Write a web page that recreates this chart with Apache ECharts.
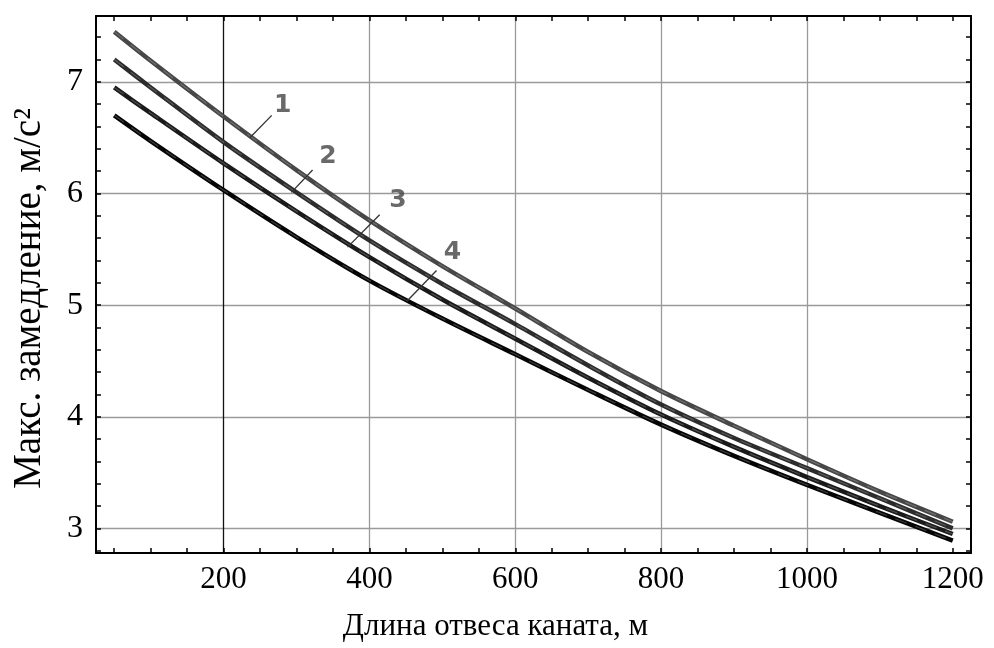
<!DOCTYPE html>
<html><head><meta charset="utf-8">
<script src="https://cdn.jsdelivr.net/npm/echarts@6/dist/echarts.min.js"></script>
<style>html,body{margin:0;padding:0;background:#fff}#c{width:994px;height:648px}</style>
</head><body><div id="c"></div>
<script>
// Rope length, m
const lengths = [50, 100, 200, 300, 400, 500, 600, 700, 800, 900, 1000, 1100, 1200];
// Max deceleration, m/s^2
const curve1 = [7.45, 7.19, 6.69, 6.21, 5.76, 5.35, 4.97, 4.58, 4.23, 3.92, 3.62, 3.33, 3.06];
const curve2 = [7.20, 6.95, 6.46, 6.01, 5.58, 5.19, 4.83, 4.46, 4.11, 3.81, 3.54, 3.27, 3.00];
const curve3 = [6.95, 6.72, 6.27, 5.84, 5.43, 5.05, 4.70, 4.35, 4.02, 3.73, 3.46, 3.20, 2.95];
const curve4 = [6.70, 6.47, 6.03, 5.61, 5.22, 4.88, 4.56, 4.24, 3.93, 3.65, 3.39, 3.14, 2.89];
const curveNames = ['1', '2', '3', '4'];
// label anchors and leader lines (data coordinates)
const labelPoints = [[281, 6.79], [343, 6.33], [439, 5.94], [514, 5.47]];
const leaderStart = [[266, 6.70], [322, 6.21], [414, 5.81], [492, 5.31]];
const leaderEnd = [[236, 6.50], [293, 6.01], [370, 5.52], [452, 5.04]];
// axis ticks
const xLabelTicks = [200, 400, 600, 800, 1000, 1200];
const xMinorTicks = [50, 100, 150, 200, 250, 300, 350, 400, 450, 500, 550, 600, 650, 700, 750, 800, 850, 900, 950, 1000, 1050, 1100, 1150, 1200];
const xGridTicks = [200, 400, 600, 800, 1000];
const yLabelTicks = [3, 4, 5, 6, 7];
const yMinorTicks = [2.8, 3, 3.2, 3.4, 3.6, 3.8, 4, 4.2, 4.4, 4.6, 4.8, 5, 5.2, 5.4, 5.6, 5.8, 6, 6.2, 6.4, 6.6, 6.8, 7, 7.2, 7.4];
const xTitle = 'Длина отвеса каната, м';
const yTitle = 'Макс. замедление, м/с²';

const curves = [curve1, curve2, curve3, curve4];
const curveColors = ['#474747', '#2c2c2c', '#1a1a1a', '#050505'];
const serif = '"Liberation Serif", "DejaVu Serif", serif';
const X_MIN = 25, X_MAX = 1225, Y_MIN = 2.78, Y_MAX = 7.59;

const frameX = (pos) => ({
  type: 'value', min: X_MIN, max: X_MAX, position: pos,
  axisLine: { show: true, onZero: false, lineStyle: { color: '#000', width: 2 } },
  axisTick: { show: true, inside: true, length: 5, customValues: xMinorTicks, lineStyle: { color: '#000', width: 1.5 } },
  axisLabel: { show: false },
  splitLine: { show: false }
});
const frameY = (pos) => ({
  type: 'value', min: Y_MIN, max: Y_MAX, position: pos,
  axisLine: { show: true, onZero: false, lineStyle: { color: '#000', width: 2 } },
  axisTick: { show: true, inside: true, length: 5, customValues: yMinorTicks, lineStyle: { color: '#000', width: 1.5 } },
  axisLabel: { show: false },
  splitLine: { show: false }
});

const xBottom = frameX('bottom');
xBottom.axisLabel = { show: true, customValues: xLabelTicks, formatter: (v) => String(v),
  fontFamily: serif, fontSize: 31, color: '#000', margin: 11 };
xBottom.name = xTitle;
xBottom.nameLocation = 'middle';
xBottom.nameGap = 58;
xBottom.nameTextStyle = { fontFamily: serif, fontSize: 31, color: '#000', padding: [0, 76, 0, 0] };

const yLeft = frameY('left');
yLeft.axisLabel = { show: true, customValues: yLabelTicks, formatter: (v) => String(v),
  fontFamily: serif, fontSize: 32, color: '#000', margin: 13 };
yLeft.name = yTitle;
yLeft.nameLocation = 'middle';
yLeft.nameRotate = 90;
yLeft.nameGap = 47;
yLeft.nameTextStyle = { fontFamily: serif, fontSize: 39, color: '#000', padding: [0, 28, 0, 0] };

const xGrid = {
  type: 'value', min: X_MIN, max: X_MAX, position: 'bottom',
  axisLine: { show: false }, axisLabel: { show: false },
  axisTick: { show: false, customValues: xGridTicks },
  splitLine: { show: true, lineStyle: { color: ['#111', '#9a9a9a', '#9a9a9a', '#9a9a9a', '#9a9a9a'], width: 1.3 } }
};
const yGrid = {
  type: 'value', min: Y_MIN, max: Y_MAX, position: 'left',
  axisLine: { show: false }, axisLabel: { show: false },
  axisTick: { show: false, customValues: yLabelTicks },
  splitLine: { show: true, lineStyle: { color: '#9a9a9a', width: 1.3 } }
};

const series = [];
curves.forEach((c, k) => {
  const pts = lengths.map((x, i) => [x, c[i]]);
  series.push({
    type: 'line', xAxisIndex: 0, yAxisIndex: 0, z: 5,
    data: pts, smooth: 0.3, showSymbol: false, silent: true,
    lineStyle: { color: curveColors[k], width: 4.5 }
  });
  series.push({
    type: 'line', xAxisIndex: 0, yAxisIndex: 0, z: 5,
    data: pts, smooth: 0.3, showSymbol: false, silent: true,
    lineStyle: { color: 'rgba(255,255,255,0.22)', width: 1.2, type: [12, 9] }
  });
});
leaderStart.forEach((s, k) => {
  series.push({
    type: 'line', xAxisIndex: 0, yAxisIndex: 0, z: 6,
    data: [s, leaderEnd[k]], showSymbol: false, silent: true,
    lineStyle: { color: '#333', width: 1.3 }
  });
});
series.push({
  type: 'scatter', xAxisIndex: 0, yAxisIndex: 0, z: 7, symbolSize: 0, silent: true,
  data: labelPoints.map((p, k) => [p[0], p[1], curveNames[k]]),
  label: {
    show: true, position: 'inside', formatter: (p) => p.value[2],
    fontFamily: '"DejaVu Sans", sans-serif', fontWeight: 'bold', fontSize: 25, color: '#444'
  }
});

const chart = echarts.init(document.getElementById('c'), null, { renderer: 'canvas' });
chart.setOption({
  animation: false,
  backgroundColor: '#fff',
  grid: { left: 96, right: 23, top: 16, bottom: 95, containLabel: false },
  xAxis: [xBottom, frameX('top'), xGrid],
  yAxis: [yLeft, frameY('right'), yGrid],
  series: series
});
</script></body></html>
